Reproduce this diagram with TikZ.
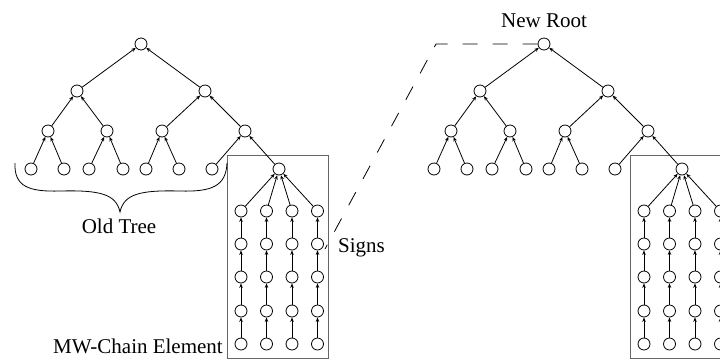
\documentclass[tikz,border=0pt]{standalone}
\usepackage{fontspec}
\setmainfont{Liberation Serif}
\usetikzlibrary{arrows.meta}
\begin{document}
\begin{tikzpicture}[x=1pt,y=-1pt,
  nd/.style={circle,draw,minimum size=12pt,inner sep=0pt,line width=0.8pt},
  ed/.style={-{Stealth[length=4.5pt,width=3.5pt]},line width=0.8pt},
  boxst/.style={draw=black!60,line width=1pt},
  lbl/.style={font=\fontsize{21}{25}\selectfont,inner sep=0pt},
  dsh/.style={line width=0.8pt,dash pattern=on 15pt off 15pt}]
\useasboundingbox (0,0) rectangle (720,360);
\clip (0,0) rectangle (720,360);
\fill[white] (0,0) rectangle (720,360);
\foreach \p/\s in {L/0,R/403}{
\begin{scope}[xshift=\s]
  \draw[boxst] (227.5,155) rectangle (328.5,358.5);
  \node[nd] (\p0) at (141,44) {};
  \node[nd] (\p1) at (77,91) {};
  \node[nd] (\p2) at (205,91) {};
  \node[nd] (\p3) at (48,131) {};
  \node[nd] (\p4) at (107,131) {};
  \node[nd] (\p5) at (162,131) {};
  \node[nd] (\p6) at (245,131) {};
  \foreach \n/\x in {a/31,b/64,c/89,d/123,e/146,f/179,g/212}
    \node[nd] (\p\n) at (\x,169) {};
  \node[nd] (\p ch) at (279,169) {};
  \foreach \i/\x in {1/241,2/266.5,3/292,4/317.5}{
    \foreach \j/\y in {1/211,2/244,3/277,4/311,5/344}
      \node[nd] (\p k\i\j) at (\x,\y) {};
    \draw[ed] (\p k\i1) -- (\p ch);
    \foreach \j/\k in {2/1,3/2,4/3,5/4}
      \draw[ed] (\p k\i\j) -- (\p k\i\k);
  }
  \draw[ed] (\p1) -- (\p0);
  \draw[ed] (\p2) -- (\p0);
  \draw[ed] (\p3) -- (\p1);
  \draw[ed] (\p4) -- (\p1);
  \draw[ed] (\p5) -- (\p2);
  \draw[ed] (\p6) -- (\p2);
  \draw[ed] (\p a) -- (\p3);
  \draw[ed] (\p b) -- (\p3);
  \draw[ed] (\p c) -- (\p4);
  \draw[ed] (\p d) -- (\p4);
  \draw[ed] (\p e) -- (\p5);
  \draw[ed] (\p f) -- (\p5);
  \draw[ed] (\p g) -- (\p6);
  \draw[ed] (\p ch) -- (\p6);
\end{scope}
}
\coordinate (dc) at (436,44);
\coordinate (de) at (325,249);
\draw[dsh] (R0.west) -- (dc) -- (de);
\draw[line width=0.8pt] (15,163) .. controls (14,186) and (28,192) .. (60,191)
  .. controls (100,190) and (116,194) .. (120,212)
  .. controls (124,194) and (140,190) .. (180,191)
  .. controls (212,192) and (226,186) .. (227,163);
\node[lbl,anchor=base] (oldtree) at (119,233) {Old Tree};
\node[lbl,anchor=base east] (mwchain) at (223,353) {MW-Chain Element};
\node[lbl,anchor=base west] (signs) at (338,252) {Signs};
\node[lbl,anchor=base] (newroot) at (544,27) {New Root};
\end{tikzpicture}
\end{document}
